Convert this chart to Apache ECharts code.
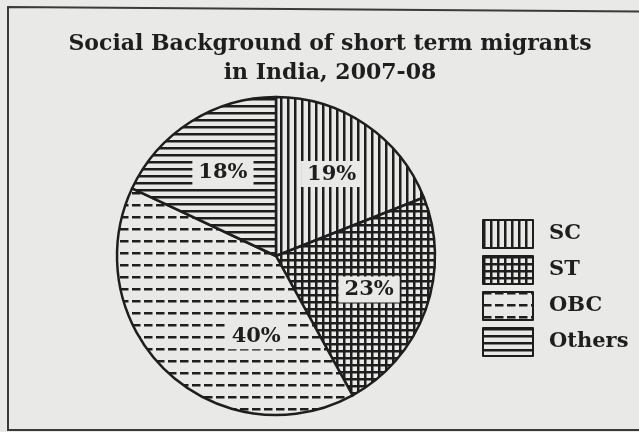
<!DOCTYPE html>
<html>
<head>
<meta charset="utf-8">
<script src="https://cdn.jsdelivr.net/npm/echarts@6/dist/echarts.min.js"></script>
<style>
  html, body { margin: 0; padding: 0; background: #e9e9e7; }
  #main { width: 639px; height: 432px; }
</style>
</head>
<body>
<div id="main"></div>
<script>
// data
const categories = ['SC', 'ST', 'OBC', 'Others'];
const shares = [19, 23, 40, 18];
const titleLines = ['Social Background of short term migrants', 'in India, 2007-08'];

const paper = '#e9e9e7';
const ink = '#1e1e1e';
const serif = 'DejaVu Serif';

// hatch fills like the printed figure
const makePattern = (kind) => {
  const c = document.createElement('canvas');
  const ctx = c.getContext('2d');
  const sizes = { vert: [7, 7], grid: [7, 7], dash: [12, 12], horiz: [7, 7] };
  c.width = sizes[kind][0];
  c.height = sizes[kind][1];
  ctx.fillStyle = paper;
  ctx.fillRect(0, 0, c.width, c.height);
  ctx.fillStyle = ink;
  if (kind === 'vert') {
    ctx.fillRect(0, 0, 2.5, c.height);
  } else if (kind === 'grid') {
    ctx.fillRect(0, 0, 2.5, c.height);
    ctx.fillRect(0, 0, c.width, 2.5);
  } else if (kind === 'dash') {
    ctx.fillRect(0, 0, 8.5, 2.5);
  } else {
    ctx.fillRect(0, 0, c.width, 2.5);
  }
  return { image: c, repeat: 'repeat' };
};
const fills = [makePattern('vert'), makePattern('grid'), makePattern('dash'), makePattern('horiz')];

// label nudge for the OBC slice, its label sits off the slice middle
const labelShift = { OBC: [48, 8] };

const myChart = echarts.init(document.getElementById('main'), null, { renderer: 'canvas' });

const option = {
  backgroundColor: paper,
  animation: false,
  title: {
    text: titleLines.join('\n'),
    left: 325,
    top: 25,
    textAlign: 'center',
    textStyle: { fontFamily: serif, fontWeight: 'bold', fontSize: 22, color: ink, lineHeight: 29 }
  },
  legend: {
    orient: 'vertical',
    left: 477,
    top: 214,
    itemWidth: 50,
    itemHeight: 28,
    itemGap: 6,
    icon: 'rect',
    data: categories,
    selectedMode: false,
    textStyle: { fontFamily: serif, fontWeight: 'bold', fontSize: 21, color: ink, padding: [0, 0, 0, 11] }
  },
  graphic: [{
    type: 'polyline',
    shape: { points: [[700, 12], [8, 7], [8, 430], [700, 430]] },
    style: { stroke: '#3a3a3a', lineWidth: 2, fill: null },
    silent: true
  }],
  series: [
    {
      type: 'pie',
      center: [276, 256],
      radius: [0, 159],
      startAngle: 90,
      clockwise: true,
      silent: true,
      label: { show: false },
      labelLine: { show: false },
      itemStyle: { borderColor: ink, borderWidth: 2.5 },
      data: categories.map((name, i) => ({ name, value: shares[i], itemStyle: { color: fills[i] } }))
    },
    {
      // transparent ring carrying the percentage labels
      type: 'pie',
      center: [276, 256],
      radius: [0, 192],
      startAngle: 90,
      clockwise: true,
      silent: true,
      itemStyle: { color: 'transparent', borderWidth: 0 },
      labelLine: { show: false },
      label: {
        show: true,
        position: 'inner',
        formatter: '{c}%',
        fontFamily: serif,
        fontWeight: 'bold',
        fontSize: 21,
        color: ink,
        backgroundColor: paper,
        padding: [3, 6, 2, 6]
      },
      data: categories.map((name, i) => ({
        name,
        value: shares[i],
        label: labelShift[name] ? { offset: labelShift[name] } : {}
      }))
    }
  ]
};

option && myChart.setOption(option);
</script>
</body>
</html>
